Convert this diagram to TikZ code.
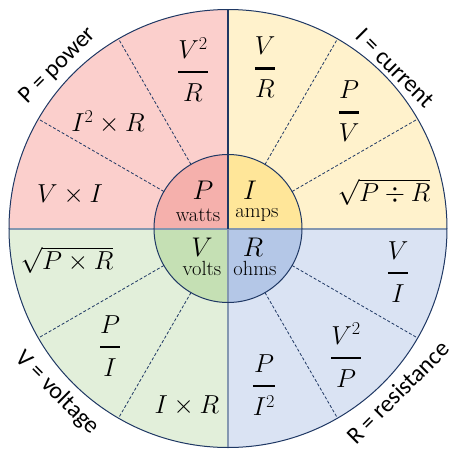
\RequirePackage{fix-cm}
\documentclass[tikz,border=0pt]{standalone}
\usepackage{fontspec}
\newfontfamily\labfont{Carlito}
\definecolor{Pout}{RGB}{251,207,204}
\definecolor{Pin}{RGB}{245,176,172}
\definecolor{Iout}{RGB}{255,242,204}
\definecolor{Iin}{RGB}{255,230,153}
\definecolor{Vout}{RGB}{226,239,218}
\definecolor{Vin}{RGB}{197,224,180}
\definecolor{Rout}{RGB}{218,227,243}
\definecolor{Rin}{RGB}{180,199,231}
\definecolor{navy}{RGB}{31,56,100}
\definecolor{grayblue}{RGB}{132,151,176}
\newcommand\fr[2]{{\vrule width0pt height0pt depth6pt #1\above 2.2pt\vrule width0pt height21.7pt depth0pt #2}}
\begin{document}
\begin{tikzpicture}[x=1pt,y=1pt,
  formula/.style={inner sep=0pt,font=\fontsize{26}{31}\selectfont},
  big/.style={inner sep=0pt,font=\fontsize{27}{32}\selectfont},
  unit/.style={inner sep=0pt,font=\fontsize{20.5}{24}\selectfont},
  outer/.style={inner sep=0pt,font=\labfont\fontsize{24}{28}\selectfont},
  sep/.style={navy,dashed,dash pattern=on 3pt off 2pt,line width=0.8pt}]
\useasboundingbox (-228pt,-227.5pt) rectangle (235pt,228.5pt);
\def\Ro{219pt}\def\Ri{74pt}
% outer sectors
\fill[Pout] (0,0) -- (90:\Ro) arc (90:180:\Ro) -- cycle;
\fill[Iout] (0,0) -- (0:\Ro) arc (0:90:\Ro) -- cycle;
\fill[Vout] (0,0) -- (180:\Ro) arc (180:270:\Ro) -- cycle;
\fill[Rout] (0,0) -- (270:\Ro) arc (270:360:\Ro) -- cycle;
% inner sectors
\fill[Pin] (0,0) -- (90:\Ri) arc (90:180:\Ri) -- cycle;
\fill[Iin] (0,0) -- (0:\Ri) arc (0:90:\Ri) -- cycle;
\fill[Vin] (0,0) -- (180:\Ri) arc (180:270:\Ri) -- cycle;
\fill[Rin] (0,0) -- (270:\Ri) arc (270:360:\Ri) -- cycle;
% dashed separators
\foreach \a in {30,60,120,150,210,240,300,330}
  \draw[sep] (\a:\Ri) -- (\a:\Ro);
% quadrant lines
\coordinate (c) at (0,0);
\coordinate (top) at (90:\Ro);
\coordinate (bot) at (270:\Ro);
\coordinate (lft) at (180:\Ro);
\coordinate (rgt) at (0:\Ro);
\draw[grayblue,line width=2pt] (c) -- (bot);
\draw[grayblue,line width=2pt] (lft) -- (rgt);
\draw[navy,line width=1.2pt] (top) -- (c);
% circles
\draw[navy,line width=1pt] (c) circle (\Ro);
\draw[navy,line width=1pt] (c) circle (\Ri);
% inner labels
\node[big] (P) at (-25,38.5) {$P$};
\node[unit] (watts) at (-30,13.5) {watts};
\node[big] (I) at (22,38.5) {$I$};
\node[unit] (amps) at (29,13.5) {amps};
\node[big] (V) at (-26,-18.5) {$V$};
\node[unit] (volts) at (-26,-39.5) {volts};
\node[big] (R) at (25,-18.5) {$R$};
\node[unit] (ohms) at (27,-39.5) {ohms};
% P formulas
\node[formula] (p1) at (-35,159) {$\displaystyle\fr{V^2}{R}$};
\node[formula] (p2) at (-120,106.5) {$I^2\times R$};
\node[formula] (p3) at (-158,33.5) {$V\times I$};
% I formulas
\node[formula] (i1) at (37,161) {$\displaystyle\fr{V}{R}$};
\node[formula] (i2) at (121,117) {$\displaystyle\fr{P}{V}$};
\node[formula] (i3) at (156,36.5) {$\sqrt{P\div R}$};
% V formulas
\node[formula] (v1) at (-161,-31.5) {$\sqrt{P\times R}$};
\node[formula] (v2) at (-118,-117.5) {$\displaystyle\fr{P}{I}$};
\node[formula] (v3) at (-41,-177.5) {$I\times R$};
% R formulas
\node[formula] (r1) at (170,-43.5) {$\displaystyle\fr{V}{I}$};
\node[formula] (r2) at (118,-126.5) {$\displaystyle\fr{V^2}{P}$};
\node[formula] (r3) at (36,-156.5) {$\displaystyle\fr{P}{I^2}$};
% outer labels
\node[outer,rotate=45] (lp) at (-170,162.5) {P = power};
\node[outer,rotate=-45] (li) at (167,160.5) {I = current};
\node[outer,rotate=-45] (lv) at (-171,-164.5) {V = voltage};
\node[outer,rotate=45] (lr) at (170,-163.5) {R = resistance};
\end{tikzpicture}
\end{document}
